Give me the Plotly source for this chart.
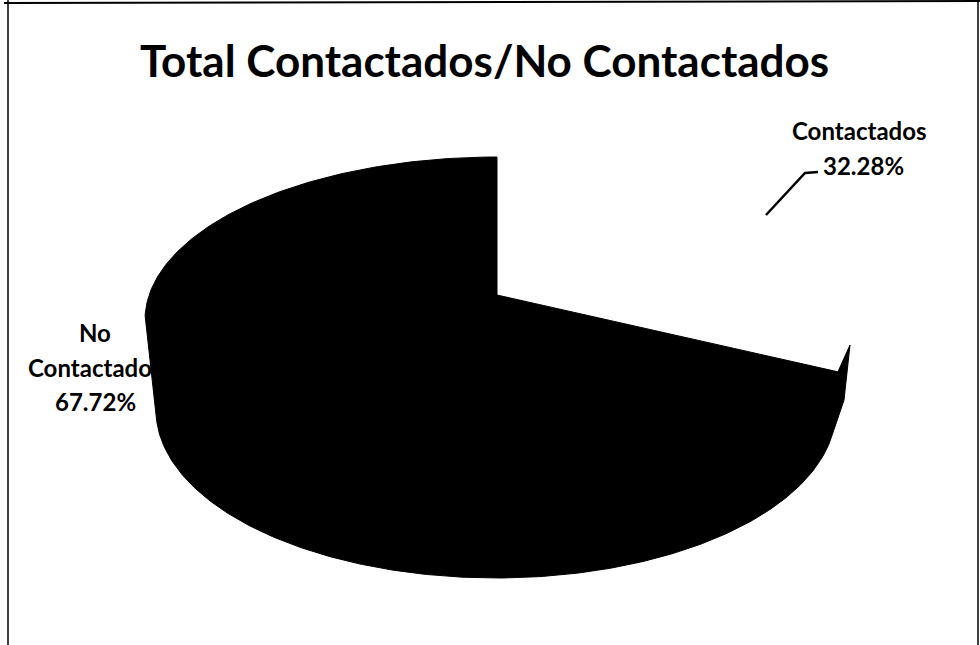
import numpy as np
import plotly.graph_objects as go

labels = ["Contactados", "No Contactados"]
values = [32.28, 67.72]
title = "Total Contactados/No Contactados"

# Pie geometry in page pixels
AX, AY = 497, 295                      # apex of the slices
SPLIT_RX, SPLIT_RY = 380, 174          # reach of the edge between the slices
TOP = dict(cx=497, cy=320, rx=352, ry=163)
BOTTOM = dict(cx=496, cy=410, rx=340, ry=168)
TIP = (850, 345)
SHOULDER = (844, 400)


def rim(deg, cx, cy, rx, ry):
    t = np.radians(deg)
    return cx + rx * np.sin(t), cy - ry * np.cos(t)


split = values[0] / sum(values) * 360
t = np.radians(split)
sx, sy = AX + SPLIT_RX * np.sin(t), AY - SPLIT_RY * np.cos(t)

bx, by = rim(np.linspace(98, 270, 240), **BOTTOM)
tx, ty = rim(np.linspace(270, 360, 120), **TOP)

# Dark slice silhouette: edge to the rim, side wall, back rim, back to the apex
px = np.r_[AX, sx, TIP[0], SHOULDER[0], bx, tx, AX]
py = np.r_[AY, sy, TIP[1], SHOULDER[1], by, ty, AY]

fig = go.Figure()
fig.add_trace(go.Scatter(x=px, y=py, fill="toself", fillcolor="#000", mode="lines",
                         line=dict(color="#000", width=1), hoverinfo="skip", showlegend=False,
                         name=labels[1]))


def label(x, y, text):
    return dict(x=x, y=y, text=f"<b>{text}</b>", showarrow=False, font=dict(size=24))


first, rest = labels[1].split(" ", 1)
fig.update_layout(
    width=980, height=645, margin=dict(l=0, r=0, t=0, b=0), paper_bgcolor="#fff", plot_bgcolor="#fff",
    xaxis=dict(range=[0, 980], visible=False, fixedrange=True),
    yaxis=dict(range=[645, 0], visible=False, fixedrange=True),
    font=dict(family="Lato, Noto Sans, sans-serif", color="#000"),
    annotations=[
        dict(x=484, y=60, text=title, showarrow=False, font=dict(size=44, weight="bold")),
        label(859, 130, labels[0]),
        label(863, 165, f"{values[0]:.2f}%"),
        label(95, 332, first),
        label(95, 367, rest),
        label(95, 401, f"{values[1]:.2f}%"),
    ],
    shapes=[
        dict(type="path", path="M 766 215 L 805 173 L 818 172", line=dict(color="#000", width=2.5)),
        dict(type="line", x0=4, y0=3, x1=980, y1=1, line=dict(color="#000", width=2)),
        dict(type="line", x0=8, y0=0, x1=8, y1=645, line=dict(color="#000", width=1.5)),
        dict(type="line", x0=978, y0=0, x1=978, y1=645, line=dict(color="#000", width=1.5)),
    ],
)
fig.write_html("out.html", config=dict(displayModeBar=False), post_script="document.body.style.margin='0';")
